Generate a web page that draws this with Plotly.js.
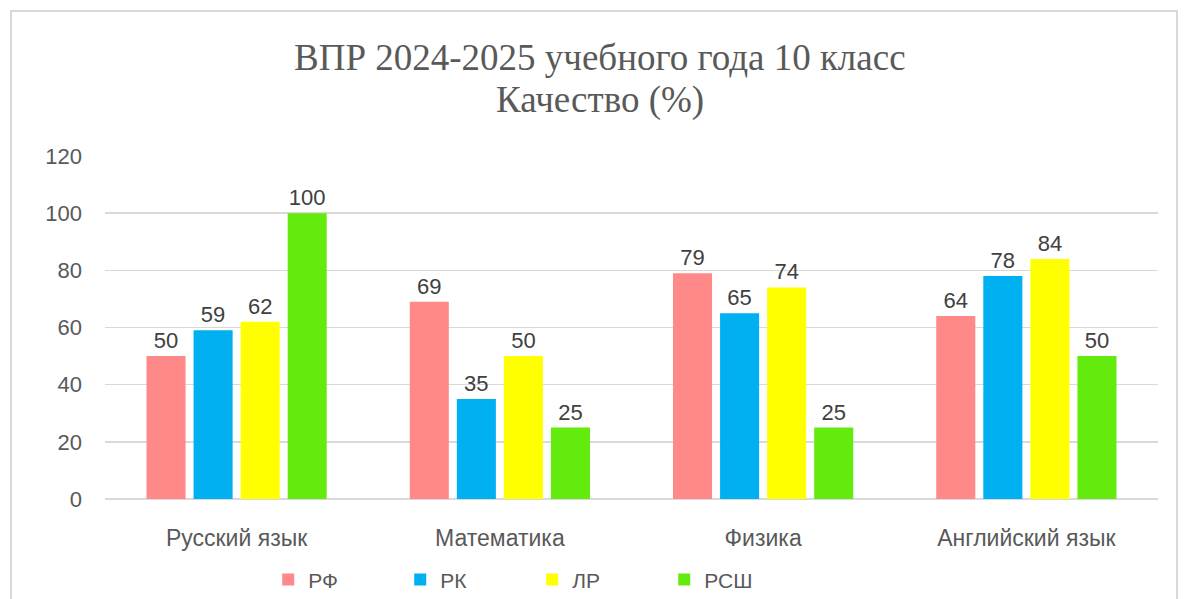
<!DOCTYPE html>
<html><head><meta charset="utf-8">
<script src="https://cdn.plot.ly/plotly-3.0.1.min.js"></script>
<style>
html,body{margin:0;padding:0;background:#fff;overflow:hidden}
#wrap{position:relative;width:1188px;height:599px}
#chart{position:absolute;left:0;top:0;width:1188px;height:599px}
#frame{position:absolute;left:10px;top:10px;width:1168px;height:600px;border:2px solid #d9d9d9;pointer-events:none;box-sizing:border-box}
</style></head>
<body><div id="wrap"><div id="chart"></div><div id="frame"></div></div>
<script>
const categories = ["Русский язык", "Математика", "Физика", "Английский язык"];
const seriesNames = ["РФ", "РК", "ЛР", "РСШ"];
const valuesRF = [50, 69, 79, 64];
const valuesRK = [59, 35, 65, 78];
const valuesLR = [62, 50, 74, 84];
const valuesRSH = [100, 25, 25, 50];
const colors = ["#ff8888", "#00b0f0", "#ffff00", "#63eb0e"];
const yTicks = [0, 20, 40, 60, 80, 100, 120];
const titleLines = ["ВПР 2024-2025 учебного года 10 класс", "Качество (%)"];

const sans = 'Liberation Sans, Arial, sans-serif';
const allValues = [valuesRF, valuesRK, valuesLR, valuesRSH];
const traces = allValues.map((vals, i) => ({
  type: 'bar', name: seriesNames[i], x: categories, y: vals,
  marker: {color: colors[i]},
  text: vals.map(String), textposition: 'outside', cliponaxis: false,
  textfont: {family: sans, size: 22, color: '#404040'},
  hoverinfo: 'none'
}));

const titleFont = {family: 'Liberation Serif, Times New Roman, serif', size: 37, color: '#595959'};
const layout = {
  width: 1188, height: 599,
  margin: {l: 105, r: 30, t: 156, b: 100, autoexpand: false},
  paper_bgcolor: '#fff', plot_bgcolor: '#fff',
  barmode: 'group', bargap: 0.285, bargroupgap: 0.17,
  annotations: [
    {text: titleLines[0], xref: 'paper', yref: 'paper', x: 0.47, y: 1.2886, xanchor: 'center', yanchor: 'middle', showarrow: false, font: titleFont},
    {text: titleLines[1], xref: 'paper', yref: 'paper', x: 0.47, y: 1.1633, xanchor: 'center', yanchor: 'middle', showarrow: false, font: titleFont}
  ],
  xaxis: {
    tickfont: {family: sans, size: 23, color: '#595959'},
    showgrid: false, showline: false, ticks: '', ticklabelstandoff: 23, automargin: false
  },
  yaxis: {
    range: [0, 120], tickvals: yTicks, ticktext: yTicks.map(String),
    tickfont: {family: sans, size: 22, color: '#595959'},
    gridcolor: '#d9d9d9', gridwidth: 1.5, zeroline: true, zerolinecolor: '#d9d9d9', zerolinewidth: 2,
    showline: false, ticks: '', ticklabelstandoff: 22, automargin: false
  },
  legend: {
    orientation: 'h', x: 0.155, xanchor: 'left', y: -0.236, yanchor: 'middle',
    entrywidth: 87, entrywidthmode: 'pixels',
    font: {family: sans, size: 21, color: '#595959'},
    itemclick: false, itemdoubleclick: false
  },
  showlegend: true
};
Plotly.newPlot('chart', traces, layout, {displayModeBar: false, staticPlot: true});
</script></body></html>
